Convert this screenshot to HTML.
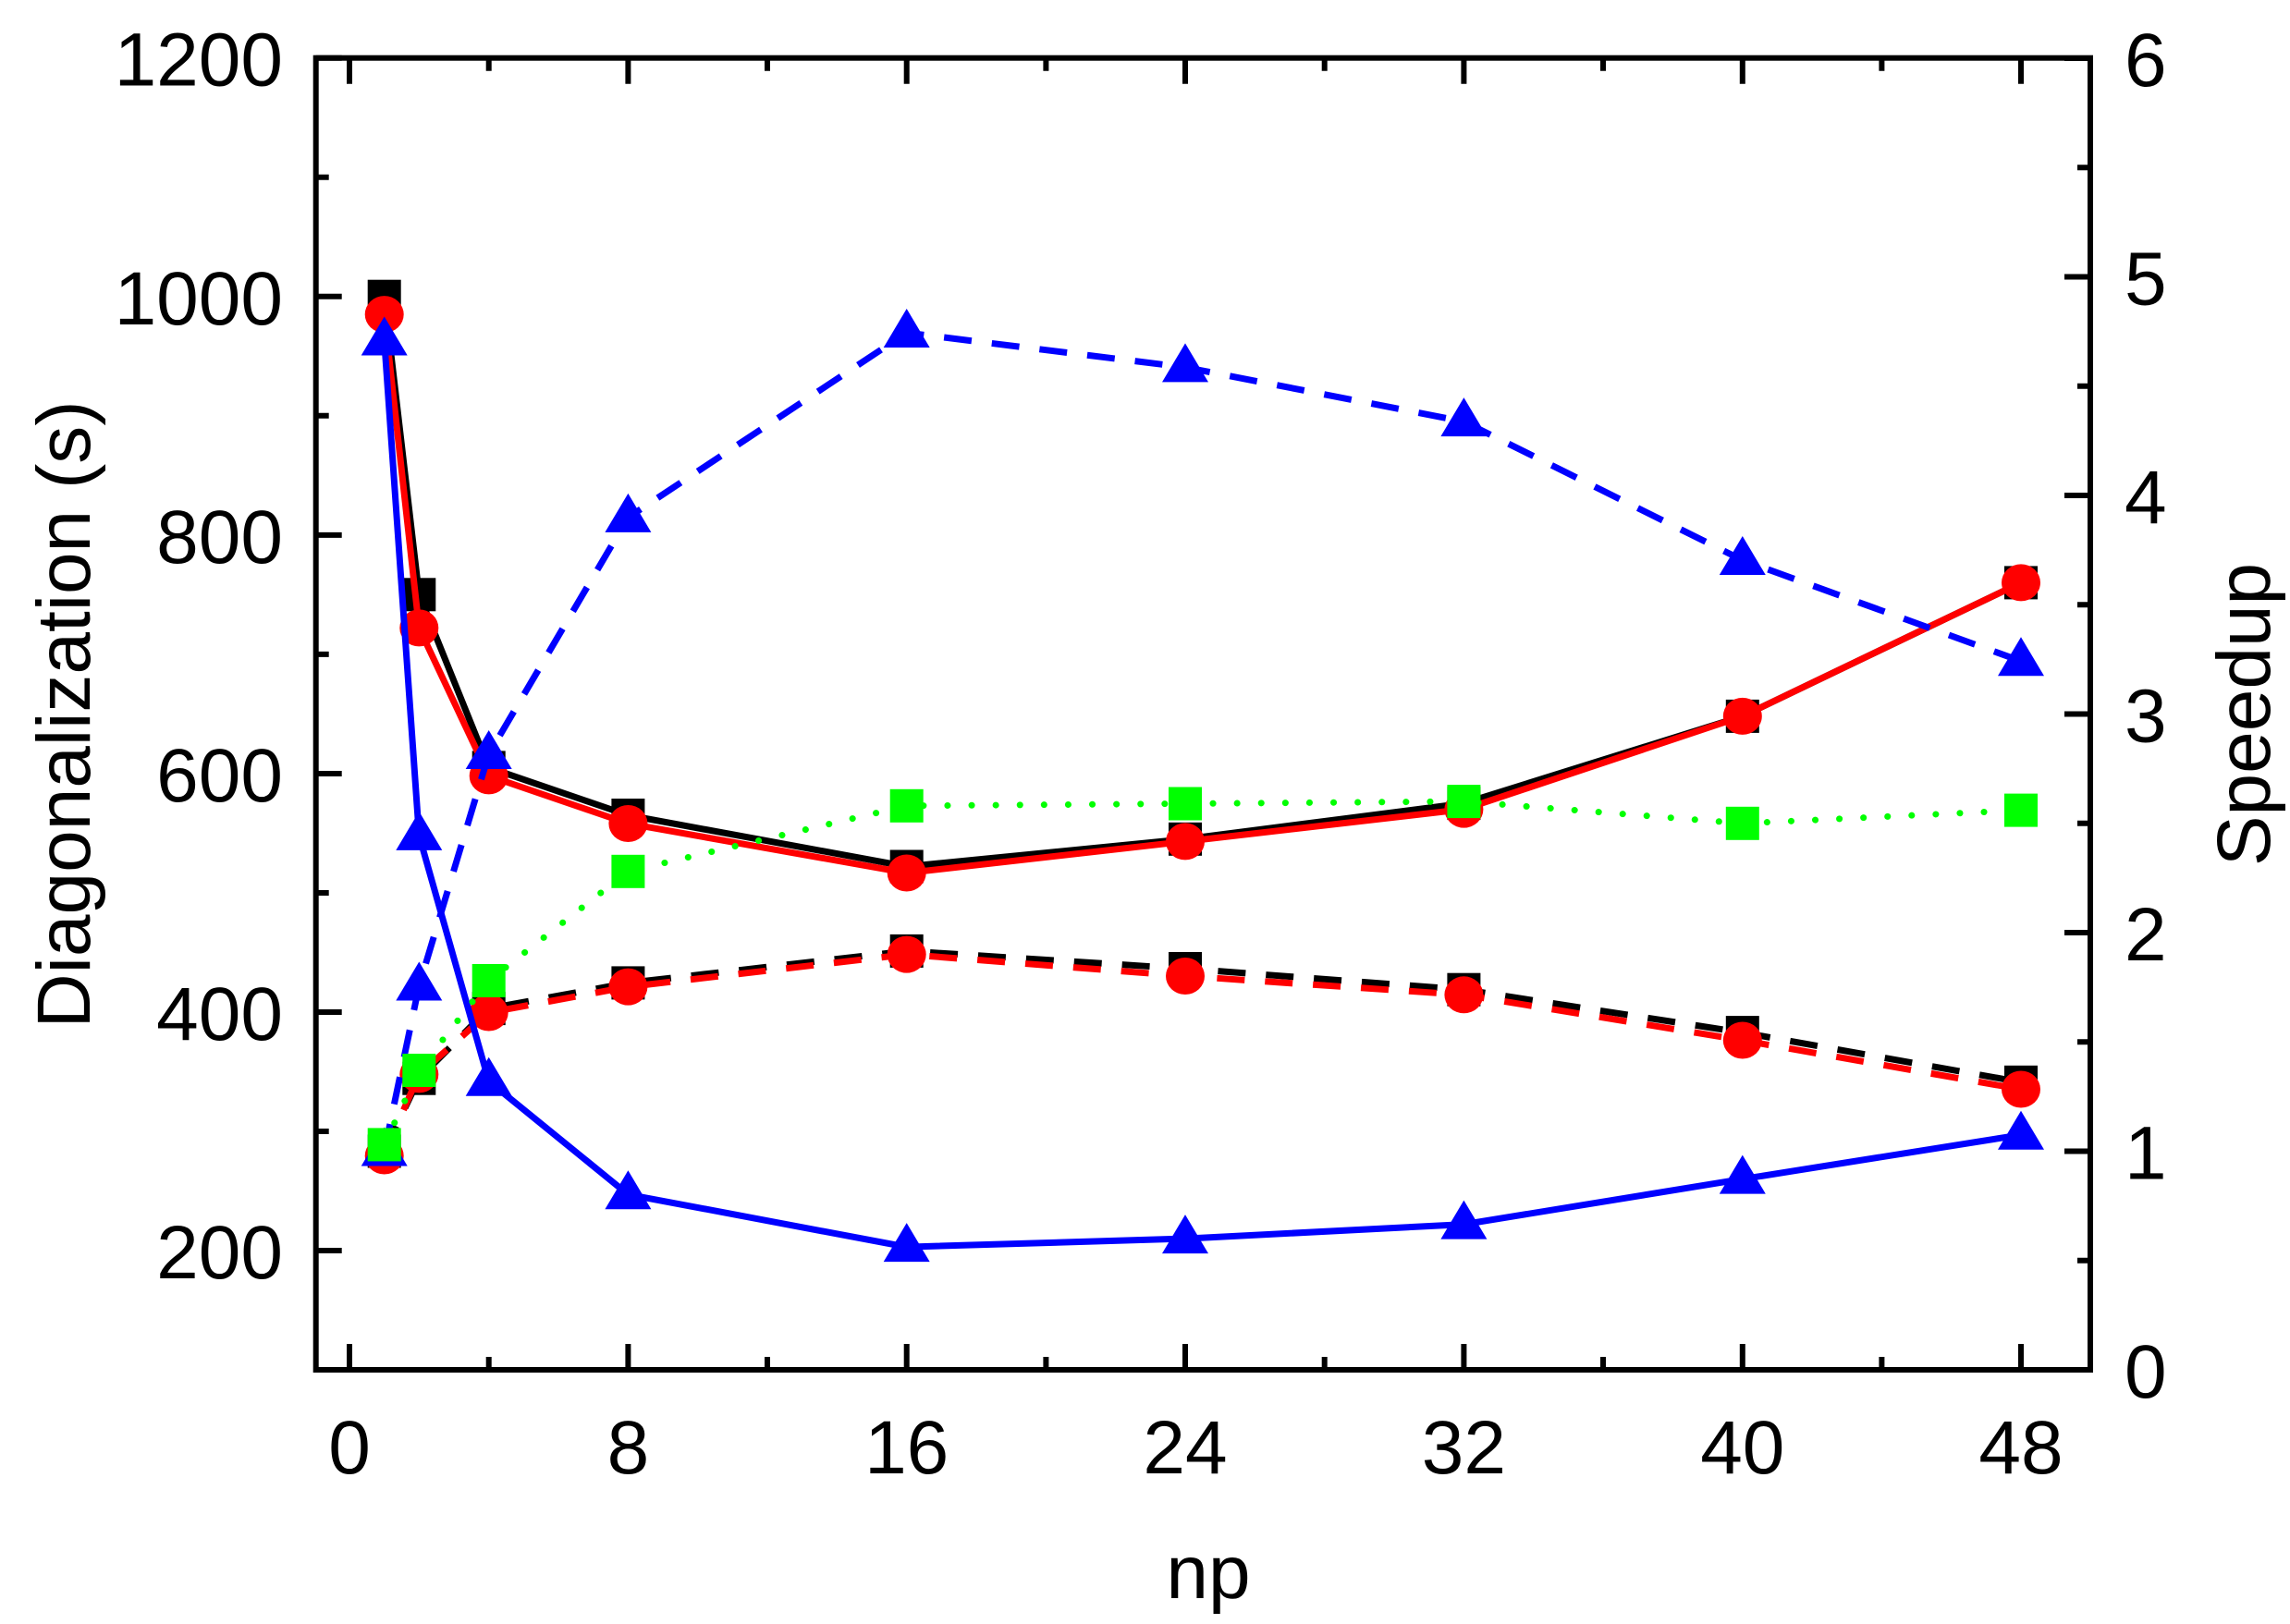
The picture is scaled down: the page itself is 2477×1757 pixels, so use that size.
<!DOCTYPE html>
<html><head><meta charset="utf-8"><style>html,body{margin:0;padding:0;background:#fff}svg{display:block}</style></head>
<body>
<svg width="2477" height="1757" viewBox="0 0 2477 1757" xmlns="http://www.w3.org/2000/svg" font-family="Liberation Sans, Arial, sans-serif">
<rect width="2477" height="1757" fill="#fff"/>
<g stroke="#000" stroke-width="6" fill="none">
<rect x="341.7" y="62.7" width="1919.3" height="1419.3"/>
<path d="M378 1482v-28M679.4 1482v-28M980.7 1482v-28M1282 1482v-28M1583.4 1482v-28M1884.8 1482v-28M2186 1482v-28
M528.7 1482v-14M830 1482v-14M1131.4 1482v-14M1432.7 1482v-14M1734 1482v-14M2035.4 1482v-14
M378 62.7v28M679.4 62.7v28M980.7 62.7v28M1282 62.7v28M1583.4 62.7v28M1884.8 62.7v28M2186 62.7v28
M528.7 62.7v14M830 62.7v14M1131.4 62.7v14M1432.7 62.7v14M1734 62.7v14M2035.4 62.7v14"/>
<path d="M341.7 62.7h28M341.7 320.8h28M341.7 578.9h28M341.7 837h28M341.7 1095h28M341.7 1353h28
M341.7 191.7h14M341.7 449.8h14M341.7 707.9h14M341.7 966h14M341.7 1224h14"/>
<path d="M2261 1482h-28M2261 1245.5h-28M2261 1009h-28M2261 772.5h-28M2261 536h-28M2261 299.5h-28M2261 63h-28
M2261 1363.8h-14M2261 1127.3h-14M2261 890.8h-14M2261 654.3h-14M2261 417.8h-14M2261 181.3h-14"/>
</g>
<g font-size="82" fill="#000">
<g text-anchor="end">
<text x="306" y="92.7">1200</text><text x="306" y="350.8">1000</text><text x="306" y="608.9">800</text><text x="306" y="867">600</text><text x="306" y="1125">400</text><text x="306" y="1383">200</text>
</g>
<g text-anchor="start">
<text x="2298" y="1512">0</text><text x="2298" y="1275.5">1</text><text x="2298" y="1039">2</text><text x="2298" y="802.5">3</text><text x="2298" y="566">4</text><text x="2298" y="329.5">5</text><text x="2298" y="93">6</text>
</g>
<g text-anchor="middle">
<text x="378" y="1594">0</text><text x="679.4" y="1594">8</text><text x="980.7" y="1594">16</text><text x="1282" y="1594">24</text><text x="1583.4" y="1594">32</text><text x="1884.8" y="1594">40</text><text x="2186" y="1594">48</text>
<text x="1307" y="1729">np</text>
<text transform="translate(97,773) rotate(-90)">Diagonalization (s)</text>
<text transform="translate(2455,773) rotate(-90)">Speedup</text>
</g>
</g>
<defs>
<rect id="sq" x="-18" y="-18" width="36" height="36"/>
<ellipse id="ci" cx="0" cy="0" rx="21" ry="20"/>
<path id="tr" d="M0 -26L25 16L-25 16Z"/>
</defs>
<polyline fill="none" stroke="#000" stroke-width="7" points="415.7,320.7 453.3,643.3 528.7,830.4 679.4,882 980.7,937.5 1282,907.8 1583.4,869.1 1884.8,774.9 2186,630.4"/>
<g fill="#000"><use href="#sq" x="415.7" y="320.7"/><use href="#sq" x="453.3" y="643.3"/><use href="#sq" x="528.7" y="830.4"/><use href="#sq" x="679.4" y="882"/><use href="#sq" x="980.7" y="937.5"/><use href="#sq" x="1282" y="907.8"/><use href="#sq" x="1583.4" y="869.1"/><use href="#sq" x="1884.8" y="774.9"/><use href="#sq" x="2186" y="630.4"/></g>
<polyline fill="none" stroke="#f00" stroke-width="7" points="415.7,340.1 453.3,679.4 528.7,839.4 679.4,891 980.7,944.5 1282,910.4 1583.4,875.6 1884.8,774.9 2186,630.4"/>
<g fill="#f00"><use href="#ci" x="415.7" y="340.1"/><use href="#ci" x="453.3" y="679.4"/><use href="#ci" x="528.7" y="839.4"/><use href="#ci" x="679.4" y="891"/><use href="#ci" x="980.7" y="944.5"/><use href="#ci" x="1282" y="910.4"/><use href="#ci" x="1583.4" y="875.6"/><use href="#ci" x="1884.8" y="774.9"/><use href="#ci" x="2186" y="630.4"/></g>
<polyline fill="none" stroke="#000" stroke-width="7" stroke-dasharray="30,22" points="415.7,1245.5 453.3,1166.7 528.7,1091.1 679.4,1063.4 980.7,1028.9 1282,1048 1583.4,1070.7 1884.8,1117.1 2186,1170.8"/>
<g fill="#000"><use href="#sq" x="415.7" y="1245.5"/><use href="#sq" x="453.3" y="1166.7"/><use href="#sq" x="528.7" y="1091.1"/><use href="#sq" x="679.4" y="1063.4"/><use href="#sq" x="980.7" y="1028.9"/><use href="#sq" x="1282" y="1048"/><use href="#sq" x="1583.4" y="1070.7"/><use href="#sq" x="1884.8" y="1117.1"/><use href="#sq" x="2186" y="1170.8"/></g>
<polyline fill="none" stroke="#f00" stroke-width="7" stroke-dasharray="30,22" points="415.7,1248.5 453.3,1162.4 528.7,1095.5 679.4,1067.6 980.7,1032.6 1282,1056 1583.4,1076.3 1884.8,1125.5 2186,1178.5"/>
<g fill="#f00"><use href="#ci" x="415.7" y="1250.5"/><use href="#ci" x="453.3" y="1162.4"/><use href="#ci" x="528.7" y="1095.5"/><use href="#ci" x="679.4" y="1067.6"/><use href="#ci" x="980.7" y="1032.6"/><use href="#ci" x="1282" y="1056"/><use href="#ci" x="1583.4" y="1076.3"/><use href="#ci" x="1884.8" y="1125.5"/><use href="#ci" x="2186" y="1178.5"/></g>
<polyline fill="none" stroke="#00f" stroke-width="7" points="415.7,368.5 453.3,903.9 528.7,1169.7 679.4,1292.3 980.7,1349.1 1282,1340.1 1583.4,1324.6 1884.8,1275.6 2186,1227.8"/>
<g fill="#00f"><use href="#tr" x="415.7" y="368.5"/><use href="#tr" x="453.3" y="903.9"/><use href="#tr" x="528.7" y="1169.7"/><use href="#tr" x="679.4" y="1292.3"/><use href="#tr" x="980.7" y="1349.1"/><use href="#tr" x="1282" y="1340.1"/><use href="#tr" x="1583.4" y="1324.6"/><use href="#tr" x="1884.8" y="1275.6"/><use href="#tr" x="2186" y="1227.8"/></g>
<polyline fill="none" stroke="#00f" stroke-width="7" stroke-dasharray="30,22" points="415.7,1245.5 453.3,1066.5 528.7,816 679.4,559.9 980.7,360 1282,397.4 1583.4,456.1 1884.8,606 2186,715.3"/>
<g fill="#00f"><use href="#tr" x="415.7" y="1245.5"/><use href="#tr" x="453.3" y="1066.5"/><use href="#tr" x="528.7" y="816"/><use href="#tr" x="679.4" y="559.9"/><use href="#tr" x="980.7" y="360"/><use href="#tr" x="1282" y="397.4"/><use href="#tr" x="1583.4" y="456.1"/><use href="#tr" x="1884.8" y="606"/><use href="#tr" x="2186" y="715.3"/></g>
<polyline fill="none" stroke="#0f0" stroke-width="7" stroke-linecap="round" stroke-dasharray="0.1,26" points="415.7,1238.4 453.3,1158 528.7,1061 679.4,942.8 980.7,871.8 1282,869.5 1583.4,867.1 1884.8,890.8 2186,876.6"/>
<g fill="#0f0"><use href="#sq" x="415.7" y="1238.4"/><use href="#sq" x="453.3" y="1158"/><use href="#sq" x="528.7" y="1061"/><use href="#sq" x="679.4" y="942.8"/><use href="#sq" x="980.7" y="871.8"/><use href="#sq" x="1282" y="869.5"/><use href="#sq" x="1583.4" y="867.1"/><use href="#sq" x="1884.8" y="890.8"/><use href="#sq" x="2186" y="876.6"/></g>
</svg>
</body></html>
